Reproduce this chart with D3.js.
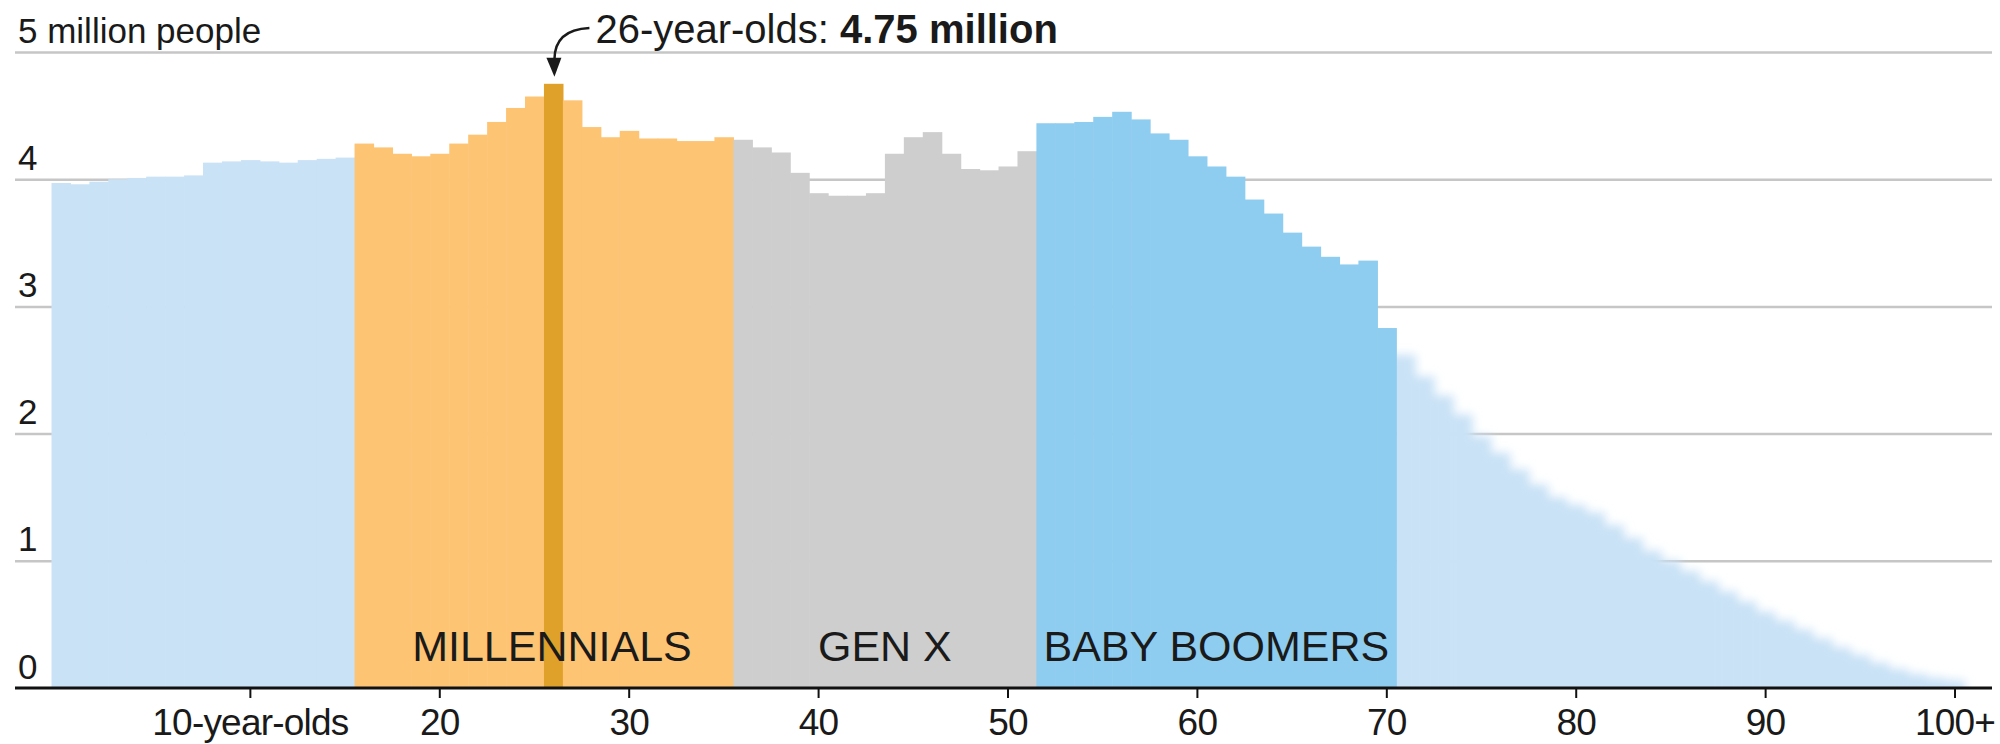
<!DOCTYPE html>
<html>
<head>
<meta charset="utf-8">
<script src="https://cdnjs.cloudflare.com/ajax/libs/d3/7.8.5/d3.min.js"></script>
<style>
  html, body { margin: 0; padding: 0; background: #fff; }
  svg { display: block; }
  text { font-family: "Liberation Sans", Arial, sans-serif; fill: #1a1a1a; }
</style>
</head>
<body>
<svg id="chart" width="2000" height="744"></svg>
<script>
// US population by single year of age, millions (age 100 = 100 and older)
const ages = d3.range(0, 101);
const population = [
  3.97, 3.96, 3.98, 4.00, 4.01, 4.02, 4.02, 4.03,           // 0-7
  4.13, 4.14, 4.15, 4.14, 4.13, 4.15, 4.16, 4.17,           // 8-15
  4.28, 4.25, 4.20, 4.18, 4.20, 4.28, 4.35, 4.45, 4.56, 4.65, // 16-25
  4.75, 4.62, 4.41, 4.33, 4.38, 4.32, 4.32, 4.30, 4.30, 4.33, // 26-35
  4.31, 4.25, 4.21, 4.05, 3.89, 3.87, 3.87, 3.89,           // 36-43
  4.20, 4.33, 4.37, 4.20, 4.08, 4.07, 4.10, 4.22,           // 44-51
  4.44, 4.44, 4.45, 4.49, 4.53, 4.47, 4.36, 4.31, 4.18, 4.10, // 52-61
  4.02, 3.84, 3.73, 3.58, 3.47, 3.39, 3.33, 3.36, 2.83,     // 62-70
  2.62, 2.45, 2.30, 2.15, 1.98, 1.85, 1.72, 1.60, 1.50, 1.44, // 71-80
  1.38, 1.28, 1.18, 1.08, 1.00, 0.92, 0.84, 0.76, 0.68, 0.60, // 81-90
  0.53, 0.46, 0.39, 0.32, 0.26, 0.20, 0.15, 0.11, 0.08, 0.06  // 91-100
];

// Generations and the age range each one covers
const genNames = ["MILLENNIALS", "GEN X", "BABY BOOMERS"];
const genStart = [16, 36, 52];
const genEnd = [35, 51, 70];
const genColors = ["#fdc474", "#cecece", "#8fcdf0"];
const otherColor = "#c9e2f6";

// Highlighted age
const highlightAge = 26;
const highlightValue = 4.75;
const highlightColor = "#dfa12a";

// Axis ticks
const xTickValues = [10, 20, 30, 40, 50, 60, 70, 80, 90, 100];
const xTickLabels = ["10-year-olds", "20", "30", "40", "50", "60", "70", "80", "90", "100+"];
const yTickValues = [0, 1, 2, 3, 4, 5];
const yTickLabels = ["0", "1", "2", "3", "4", "5 million people"];

const svg = d3.select("#chart");
const baseY = 688, topY = 52;
const gridLeft = 15, gridRight = 1992;

const x = d3.scaleBand().domain(ages).range([51.5, 1964.5]).paddingInner(0).paddingOuter(0);
const y = d3.scaleLinear().domain([0, 5]).range([baseY, topY]);

function fillFor(age) {
  if (age === highlightAge) return highlightColor;
  for (let i = 0; i < genNames.length; i++) {
    if (age >= genStart[i] && age <= genEnd[i]) return genColors[i];
  }
  return otherColor;
}

// Soft edge for the oldest age groups, kept above the baseline
const defs = svg.append("defs");
defs.append("filter")
  .attr("id", "soft")
  .attr("x", "-5%").attr("y", "-10%").attr("width", "110%").attr("height", "120%")
  .append("feGaussianBlur").attr("stdDeviation", 5);
const lastBoomer = genEnd[genEnd.length - 1];
defs.append("clipPath").attr("id", "oldClip")
  .append("rect")
  .attr("x", x(lastBoomer + 1)).attr("y", 0)
  .attr("width", 2000).attr("height", baseY);

// Horizontal gridlines with labels sitting above each line
const yAxis = svg.append("g")
  .attr("transform", `translate(${gridLeft},0)`)
  .call(d3.axisRight(y).tickValues(yTickValues).tickSize(gridRight - gridLeft)
    .tickFormat((d, i) => yTickLabels[i]));
yAxis.select(".domain").remove();
yAxis.selectAll(".tick line")
  .attr("stroke", "#c6c6c6").attr("stroke-width", 2.5)
  .attr("display", d => d === 0 ? "none" : null);
yAxis.selectAll(".tick text")
  .attr("x", 3).attr("y", -10).attr("dy", 0)
  .attr("text-anchor", "start")
  .style("font-size", "35px")
  .style("fill", "#1a1a1a");

// Population bars, one per age
const oldAges = ages.filter(a => a > lastBoomer);
const mainAges = ages.filter(a => a <= lastBoomer);
const firstOld = oldAges[0];
const overlap = 24; // first soft bar tucks under the last boomer bar

svg.append("g")
  .attr("clip-path", "url(#oldClip)")
  .append("g")
  .attr("filter", "url(#soft)")
  .selectAll("rect")
  .data(oldAges)
  .join("rect")
  .attr("x", d => d === firstOld ? x(d) - overlap : x(d))
  .attr("width", d => x.bandwidth() + 0.6 + (d === firstOld ? overlap : 0))
  .attr("y", d => y(population[d]))
  .attr("height", d => baseY + 20 - y(population[d]))
  .attr("fill", d => fillFor(d));

svg.append("g")
  .selectAll("rect")
  .data(mainAges)
  .join("rect")
  .attr("x", d => x(d))
  .attr("width", x.bandwidth() + 0.6)
  .attr("y", d => y(population[d]))
  .attr("height", d => baseY - y(population[d]))
  .attr("fill", d => fillFor(d));

// Generation labels
svg.append("g")
  .selectAll("text")
  .data(genNames)
  .join("text")
  .attr("x", (d, i) => (x(genStart[i]) + x(genEnd[i]) + x.bandwidth()) / 2 + (i === 0 ? 8 : 0))
  .attr("y", 661)
  .attr("text-anchor", "middle")
  .style("font-size", "43px")
  .text(d => d);

// Bottom axis
const xAxis = svg.append("g")
  .attr("transform", `translate(0,${baseY})`)
  .call(d3.axisBottom(x).tickValues(xTickValues).tickSize(10)
    .tickFormat(d => xTickLabels[xTickValues.indexOf(d)]));
xAxis.select(".domain").remove();
xAxis.selectAll(".tick line").attr("stroke", "#111").attr("stroke-width", 2);
xAxis.selectAll(".tick text")
  .attr("y", 47).attr("dy", 0)
  .style("font-size", "37px")
  .style("letter-spacing", "-0.8px")
  .style("fill", "#1a1a1a");

svg.append("line")
  .attr("x1", gridLeft).attr("x2", gridRight)
  .attr("y1", baseY).attr("y2", baseY)
  .attr("stroke", "#111").attr("stroke-width", 3);

// Callout for the largest single-age group
const hx = x(highlightAge) + x.bandwidth() / 2;
const hy = y(highlightValue);
const note = svg.append("text")
  .attr("x", hx + 42).attr("y", 43)
  .style("font-size", "40px");
note.append("tspan").text("26-year-olds: ");
note.append("tspan").style("font-weight", "bold").text("4.75 million");

svg.append("path")
  .attr("d", `M${hx + 36},${28} C${hx + 14},${29} ${hx + 1},${38} ${hx + 1},${hy - 24}`)
  .attr("fill", "none").attr("stroke", "#1a1a1a").attr("stroke-width", 2.5);
svg.append("path")
  .attr("d", `M${hx - 7},${hy - 26} L${hx + 8},${hy - 26} L${hx + 1},${hy - 7} Z`)
  .attr("fill", "#1a1a1a");
</script>
</body>
</html>
